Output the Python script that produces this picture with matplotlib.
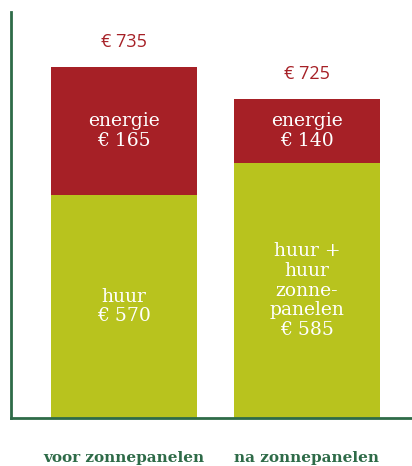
import matplotlib.pyplot as plt

# categories and euro amounts as printed on the chart
categorieen = ["voor zonnepanelen", "na zonnepanelen"]
huur_labels = ["huur\n€ 570", "huur +\nhuur\nzonne-\npanelen\n€ 585"]
energie_labels = ["energie\n€ 165", "energie\n€ 140"]
totaal_labels = ["€ 735", "€ 725"]

# drawn segment heights (the chart is not to scale)
huur_hoogte = [223, 255]
energie_hoogte = [128, 64]

groen = "#B8C31E"
rood = "#A62026"
donkergroen = "#2E6B48"

fig = plt.figure(figsize=(4.12, 4.66), dpi=100)
ax = fig.add_axes([11 / 412, 48 / 466, 401 / 412, 406 / 466])

x = list(range(len(categorieen)))
ax.bar(x, huur_hoogte, width=0.8, color=groen)
ax.bar(x, energie_hoogte, width=0.8, bottom=huur_hoogte, color=rood)

for i in x:
    ax.text(i, huur_hoogte[i] / 2, huur_labels[i], ha="center", va="center",
            color="white", fontsize=13.5, family="DejaVu Serif", linespacing=1.12)
    ax.text(i, huur_hoogte[i] + energie_hoogte[i] / 2, energie_labels[i],
            ha="center", va="center", color="white", fontsize=13.5,
            family="DejaVu Serif", linespacing=1.12)
    ax.text(i, huur_hoogte[i] + energie_hoogte[i] + 25, totaal_labels[i],
            ha="center", va="center", color=rood, fontsize=13, family="Open Sans")

ax.set_xlim(-0.617, 1.574)
ax.set_ylim(0, 406)
ax.set_xticks(x)
ax.set_xticklabels(categorieen, fontsize=11, fontweight="bold",
                   family="DejaVu Serif", color=donkergroen)
ax.tick_params(axis="x", length=0, pad=24)
ax.set_yticks([])
for s in ["top", "right"]:
    ax.spines[s].set_visible(False)
for s in ["left", "bottom"]:
    ax.spines[s].set_color(donkergroen)
    ax.spines[s].set_linewidth(2)

fig.savefig("out.png", dpi=100)
